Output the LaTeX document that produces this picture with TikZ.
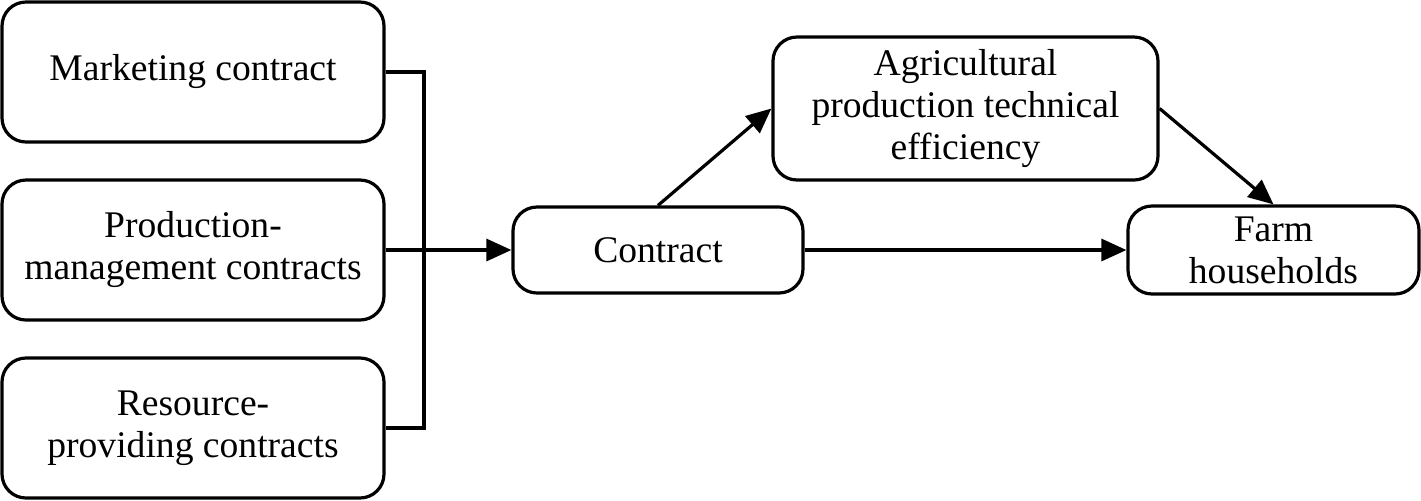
\documentclass[tikz,border=0pt]{standalone}
\usepackage{fontspec}
\setmainfont{Liberation Serif}
\usetikzlibrary{arrows.meta}
\begin{document}
\begin{tikzpicture}[x=0.5pt,y=-0.5pt,
  box/.style={draw, line width=1.6pt, rounded corners=12pt, align=center, inner sep=0pt,
    font=\fontsize{18.8}{21}\selectfont},
  conn/.style={line width=1.6pt},
  arr/.style={line width=1.6pt, -{Triangle[length=12.5pt,width=11pt]}}]
\useasboundingbox (0,0) rectangle (1421,500);
\node[box, minimum width=191pt, minimum height=70pt] (mk) at (193,72) {\raisebox{-2pt}{Marketing contract}};
\node[box, minimum width=191pt, minimum height=70pt] (pm) at (193,250) {Production-\\management contracts};
\node[box, minimum width=191pt, minimum height=70pt] (rp) at (193,428) {Resource-\\providing contracts};
\node[box, minimum width=145pt, minimum height=43pt] (ct) at (658,250) {Contract};
\node[box, minimum width=192.5pt, minimum height=71.5pt] (ag) at (965.5,108.5) {Agricultural\\production technical\\efficiency};
\node[box, minimum width=145.5pt, minimum height=44pt] (fh) at (1273.5,250) {Farm\\households};
\coordinate (j1) at (424,72);
\coordinate (j2) at (424,428);
\draw[conn] (mk.east) -- (j1) -- (j2) -- (rp.east);
\draw[arr] (pm.east) -- (ct.west);
\draw[arr] (ct.north) -- (ag.west);
\draw[arr] (ag.east) -- (fh.north);
\draw[arr] (ct.east) -- (fh.west);
\end{tikzpicture}
\end{document}
